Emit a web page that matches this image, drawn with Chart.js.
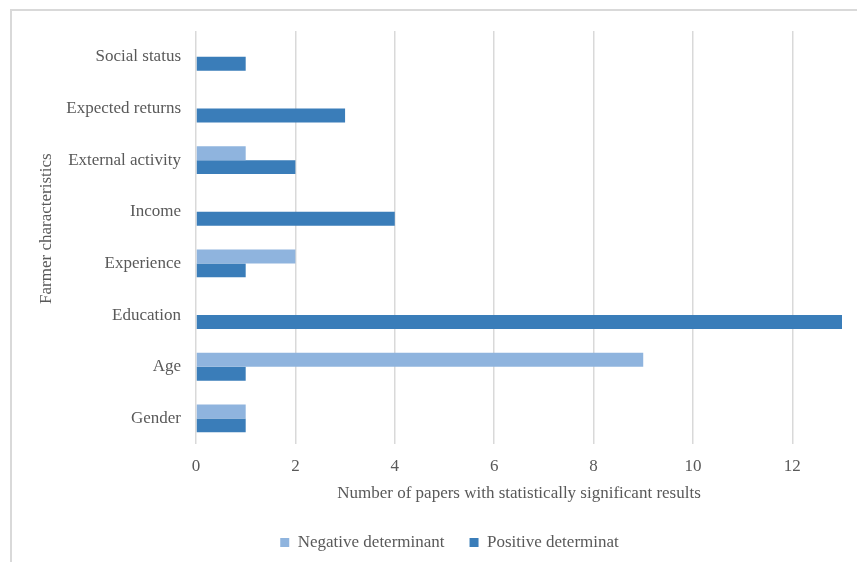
<!DOCTYPE html>
<html>
<head>
<meta charset="utf-8">
<script src="https://cdn.jsdelivr.net/npm/chart.js@4"></script>
<style>
  body { margin: 0; background: #fff; }
  #wrap { position: relative; width: 857px; height: 562px; overflow: hidden; }
  #frame { position: absolute; left: 10px; top: 9px; width: 900px; height: 600px; border: 2px solid #d9d9d9; box-sizing: border-box; pointer-events: none; }
</style>
</head>
<body>
<div id="wrap">
  <canvas id="myChart" width="857" height="562"></canvas>
  <div id="frame"></div>
</div>
<script>
// categories, top to bottom
const categories = ['Social status', 'Expected returns', 'External activity', 'Income', 'Experience', 'Education', 'Age', 'Gender'];
const negativeValues = [0, 0, 1, 0, 2, 0, 9, 1];
const positiveValues = [1, 3, 2, 4, 1, 13, 1, 1];
const xTicks = [0, 2, 4, 6, 8, 10, 12];
const yTitle = 'Farmer characteristics';

const textColor = '#595959';
const serif = "'Liberation Serif', 'Times New Roman', serif";

// y axis title sits a bit above the middle of the axis in the original
const yTitlePlugin = {
  id: 'yTitle',
  afterDraw(chart) {
    const c = chart.ctx;
    const area = chart.chartArea;
    c.save();
    c.translate(47, (area.top + area.bottom) / 2 - 9);
    c.rotate(-Math.PI / 2);
    c.fillStyle = textColor;
    c.font = '17px ' + serif;
    c.textAlign = 'center';
    c.textBaseline = 'middle';
    c.fillText(yTitle, 0, 0);
    c.restore();
  }
};

const ctx = document.getElementById('myChart').getContext('2d');

new Chart(ctx, {
  type: 'bar',
  data: {
    labels: categories,
    datasets: [
      {
        label: 'Negative determinant',
        data: negativeValues,
        backgroundColor: '#8fb4de',
        borderWidth: 0,
        categoryPercentage: 0.54,
        barPercentage: 1.0
      },
      {
        label: 'Positive determinat',
        data: positiveValues,
        backgroundColor: '#3a7db9',
        borderWidth: 0,
        categoryPercentage: 0.54,
        barPercentage: 1.0
      }
    ]
  },
  options: {
    indexAxis: 'y',
    responsive: false,
    animation: false,
    layout: { padding: { left: 57, top: 31, right: 15, bottom: 1 } },
    scales: {
      x: {
        min: 0,
        max: 13,
        afterBuildTicks: (scale) => { scale.ticks = xTicks.map(v => ({ value: v })); },
        grid: { color: '#d9d9d9', lineWidth: 1.5, drawTicks: false },
        border: { display: false },
        ticks: { color: textColor, font: { family: serif, size: 17 }, padding: 12 },
        title: {
          display: true,
          text: 'Number of papers with statistically significant results',
          color: textColor,
          font: { family: serif, size: 17 },
          padding: { top: -5, bottom: 5 }
        }
      },
      y: {
        grid: { display: false, drawTicks: false },
        border: { display: false },
        ticks: { color: textColor, font: { family: serif, size: 17 }, padding: 15 },
        afterFit: (scale) => { scale.width = 139; }
      }
    },
    plugins: {
      legend: {
        position: 'bottom',
        labels: {
          color: textColor,
          font: { family: serif, size: 17 },
          boxWidth: 9,
          boxHeight: 9,
          padding: 25
        }
      },
      tooltip: { enabled: false }
    }
  },
  plugins: [yTitlePlugin]
});
</script>
</body>
</html>
